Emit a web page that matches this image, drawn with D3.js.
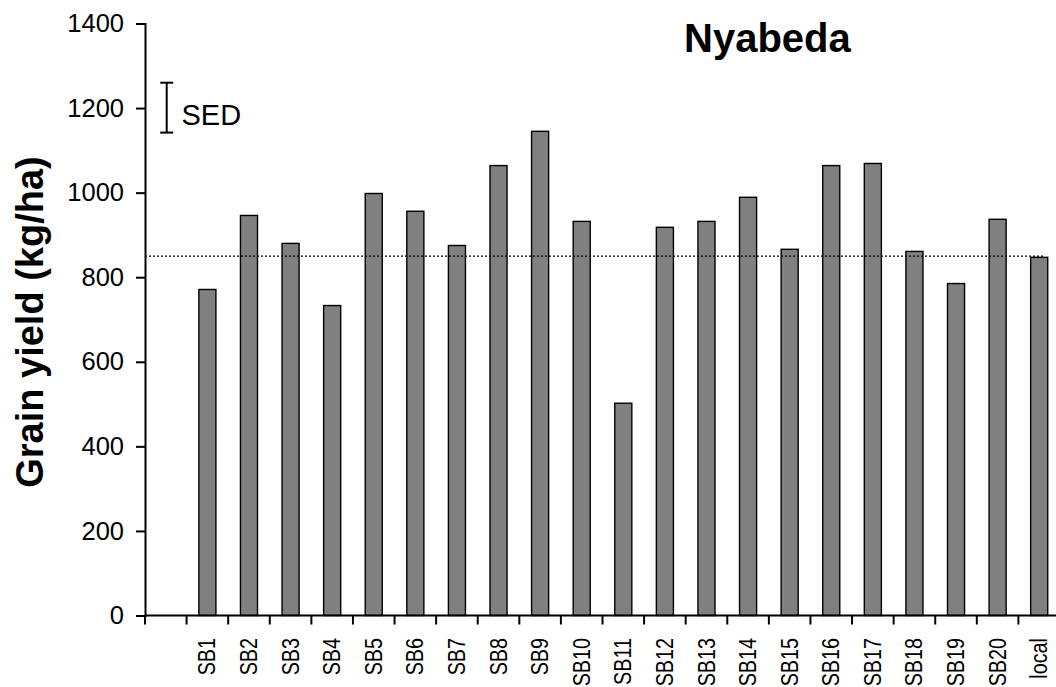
<!DOCTYPE html>
<html>
<head>
<meta charset="utf-8">
<script src="https://cdn.jsdelivr.net/npm/d3@7"></script>
<style>
  html, body { margin: 0; padding: 0; background: #fff; }
  svg { display: block; font-family: "Liberation Sans", Arial, sans-serif; }
</style>
</head>
<body>
<svg id="chart" width="1056" height="687"></svg>
<script>
// ---- data ----
const categories = ["SB1","SB2","SB3","SB4","SB5","SB6","SB7","SB8","SB9","SB10",
  "SB11","SB12","SB13","SB14","SB15","SB16","SB17","SB18","SB19","SB20","local"];
const yields = [771, 946, 880, 733, 998, 956, 875, 1064, 1145, 932,
  502, 918, 932, 989, 866, 1064, 1069, 861, 785, 937, 847];
const yTicks = [0, 200, 400, 600, 800, 1000, 1200, 1400];
const referenceLine = 850;
const sedRange = [1142, 1260];
const titleText = "Nyabeda";
const yTitle = "Grain yield (kg/ha)";
const sedLabel = "SED";

// ---- layout ----
const svg = d3.select("#chart");
const axisX0 = 145, axisX1 = 1060;
const slot = (axisX1 - axisX0) / (categories.length + 1);

const x = d3.scaleBand()
  .domain(categories)
  .range([axisX0 + slot, axisX1])
  .paddingInner(0.59)
  .paddingOuter(0.295);

const y = d3.scaleLinear().domain([0, 1400]).range([615.5, 23.5]);

// bars
svg.append("g").selectAll("rect")
  .data(categories)
  .join("rect")
  .attr("x", (d) => x(d))
  .attr("width", x.bandwidth())
  .attr("y", (d, i) => y(yields[i]))
  .attr("height", (d, i) => y(0) - y(yields[i]))
  .attr("fill", "#808080")
  .attr("stroke", "#000")
  .attr("stroke-width", 1.4);

// reference dotted line
svg.append("line")
  .attr("x1", axisX0).attr("x2", 1045)
  .attr("y1", y(referenceLine)).attr("y2", y(referenceLine))
  .attr("stroke", "#000")
  .attr("stroke-width", 1.3)
  .attr("stroke-dasharray", "2,2");

// y axis
const yAxis = d3.axisLeft(y).tickValues(yTicks).tickSize(9).tickPadding(12).tickFormat(d3.format("d"));
const gy = svg.append("g").attr("transform", `translate(${axisX0},0)`).call(yAxis);
gy.select(".domain").attr("stroke", "#000").attr("stroke-width", 2);
gy.selectAll(".tick line").attr("stroke", "#000").attr("stroke-width", 2);
gy.selectAll(".tick text").attr("font-size", 25.5).attr("fill", "#000")
  .attr("font-family", "'Liberation Sans', Arial, sans-serif");

// x axis line
svg.append("line")
  .attr("x1", axisX0).attr("x2", axisX1)
  .attr("y1", y(0)).attr("y2", y(0))
  .attr("stroke", "#000").attr("stroke-width", 2);

// x boundary ticks
const boundaries = [axisX0].concat(categories.map(c => x(c) - x.step() * x.paddingOuter()));
svg.append("g").selectAll("line")
  .data(boundaries)
  .join("line")
  .attr("x1", d => d).attr("x2", d => d)
  .attr("y1", y(0)).attr("y2", y(0) + 9)
  .attr("stroke", "#000").attr("stroke-width", 2);

// x labels
svg.append("g").selectAll("text")
  .data(categories)
  .join("text")
  .attr("transform", d => `translate(${x(d) + x.bandwidth() / 2},638) rotate(-90) scale(0.86,1)`)
  .attr("text-anchor", "end")
  .attr("dy", "0.35em")
  .attr("font-size", 23)
  .attr("fill", "#000")
  .text(d => d);

// y title
svg.append("text")
  .attr("transform", "translate(43,322) rotate(-90)")
  .attr("text-anchor", "middle")
  .attr("font-size", 38)
  .attr("font-weight", "bold")
  .attr("fill", "#000")
  .text(yTitle);

// chart title
svg.append("text")
  .attr("x", 684).attr("y", 52)
  .attr("font-size", 40)
  .attr("font-weight", "bold")
  .attr("fill", "#000")
  .text(titleText);

// SED bar
const sedX = 166.7;
const sedG = svg.append("g").attr("stroke", "#000").attr("stroke-width", 2);
sedG.append("line").attr("x1", sedX).attr("x2", sedX).attr("y1", y(sedRange[0])).attr("y2", y(sedRange[1]));
sedG.append("line").attr("x1", sedX - 6.5).attr("x2", sedX + 6.5).attr("y1", y(sedRange[0])).attr("y2", y(sedRange[0]));
sedG.append("line").attr("x1", sedX - 6.5).attr("x2", sedX + 6.5).attr("y1", y(sedRange[1])).attr("y2", y(sedRange[1]));
svg.append("text")
  .attr("x", 181.5).attr("y", 125)
  .attr("font-size", 29)
  .attr("fill", "#000")
  .text(sedLabel);
</script>
</body>
</html>
